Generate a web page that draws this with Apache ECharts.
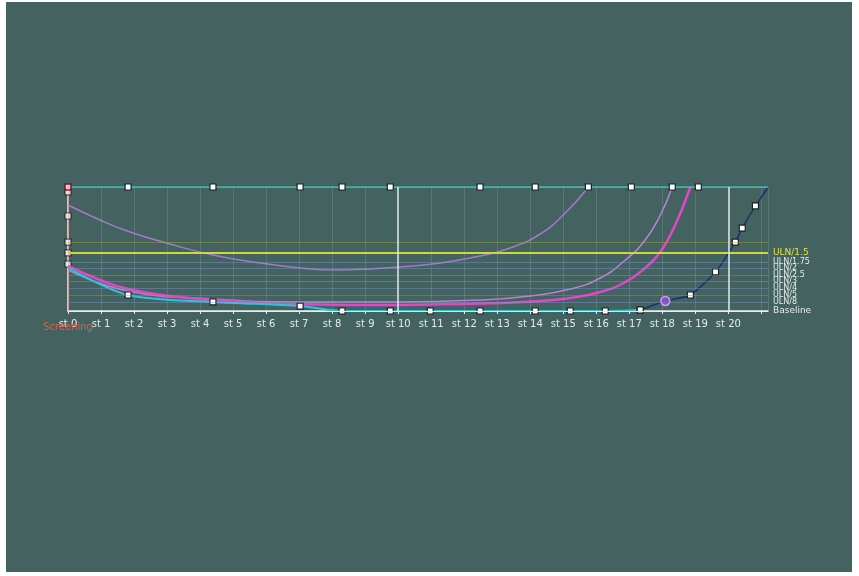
<!DOCTYPE html>
<html>
<head>
<meta charset="utf-8">
<script src="https://cdn.jsdelivr.net/npm/echarts@6/dist/echarts.min.js"></script>
<style>
  html, body { margin: 0; padding: 0; background: #ffffff; }
  #chart { position: absolute; left: 6px; top: 2px; width: 846px; height: 570px; background: #436260; }
</style>
</head>
<body>
<div id="chart"></div>
<script>
// Visit labels along the x axis
const xLabels = ['st 0','st 1','st 2','st 3','st 4','st 5','st 6','st 7','st 8','st 9','st 10',
  'st 11','st 12','st 13','st 14','st 15','st 16','st 17','st 18','st 19','st 20'];

// Values that run off the top of the scale (drawn at the cap)
const capX = [0, 1.82, 4.39, 7.03, 8.3, 9.76, 12.48, 14.15, 15.76, 17.06, 18.3, 19.09, 21.21];
const capY = [100, 100, 100, 100, 100, 100, 100, 100, 100, 100, 100, 100, 100];

// Measured series: early decline, then flat at baseline
const measX = [0, 1.82, 4.39, 7.03, 8.3, 9.76, 10.97, 12.48, 14.15, 15.21, 16.27, 17.33];
const measY = [34.7, 12.9, 7.3, 4.0, 0, 0, 0, 0, 0, 0, 0, 0.8];

// Measured series: late rise
const riseX = [17.33, 18.09, 18.85, 19.61, 20.21, 20.42, 20.82, 21.21];
const riseY = [0.8, 8.1, 12.9, 31.5, 55.6, 66.9, 84.7, 100];

// Model curve A
const modelAX = [0, 0.97, 1.82, 3.09, 4.39, 5.82, 7.03, 8.55, 10.06, 11.58, 13.09, 14.3, 15.21, 16.12, 16.88, 17.48, 17.94, 18.39, 18.85];
const modelAY = [36.3, 25.0, 17.7, 12.1, 8.9, 6.5, 5.6, 4.8, 4.8, 5.6, 6.5, 8.1, 10.5, 15.3, 23.4, 34.7, 47.6, 69.4, 100];

// Model curve B
const modelBX = [0, 1.82, 4.39, 7.03, 10.06, 12.48, 14.0, 15.21, 16.12, 16.88, 17.48, 17.94, 18.3];
const modelBY = [33.1, 16.1, 9.7, 7.3, 7.3, 8.9, 12.1, 17.7, 26.6, 41.1, 57.3, 77.4, 100];

// Model curve C (upper)
const modelCX = [0, 0.97, 1.88, 3.09, 4.39, 5.82, 7.03, 8.09, 9.15, 10.06, 11.27, 12.48, 13.39, 14.3, 15.06, 15.76];
const modelCY = [85.5, 73.4, 63.7, 54.0, 45.2, 38.7, 34.7, 33.1, 33.9, 35.5, 38.7, 44.4, 50.8, 62.1, 79.0, 100];

// Starting values shown on the y axis
const startY = [96, 76.6, 55.6, 46.8, 37.9];

// Reference levels on the right
const refNames = ['ULN/1.5', 'ULN/1.75', 'ULN/2', 'ULN/2.5', 'ULN/3', 'ULN/4', 'ULN/5', 'ULN/8', 'Baseline'];
const refValues = [46.8, 39.5, 34.7, 29.0, 24.2, 18.5, 12.9, 7.3, 0];

const pairs = (xs, ys) => xs.map((x, i) => [x, ys[i]]);

const refLines = refNames.map((name, i) => {
  const main = i === 0;
  const base = name === 'Baseline';
  return {
    yAxis: refValues[i],
    label: {
      show: true, position: 'end', formatter: name, distance: 5,
      color: main ? '#e4e23c' : '#e6ece8',
      fontSize: main ? 9 : (base ? 9 : 8), fontFamily: 'DejaVu Sans'
    },
    lineStyle: {
      color: main ? '#cfd83a' : (base ? '#e8eeee' : 'rgba(120,150,200,0.45)'),
      width: main ? 2 : 1, type: 'solid'
    }
  };
});

const chart = echarts.init(document.getElementById('chart'), null, { renderer: 'canvas' });

const squareMarker = {
  symbol: 'rect', symbolSize: 6,
  itemStyle: { color: '#ffffff', borderColor: '#1b2226', borderWidth: 1.2 }
};

chart.setOption({
  backgroundColor: '#436260',
  animation: false,
  grid: { left: 62, right: 84, top: 185, bottom: 261 },
  xAxis: {
    type: 'value', min: 0, max: 21.2, interval: 1,
    axisLine: { show: true, lineStyle: { color: '#e8eeee', width: 1.5 } },
    axisTick: { show: true, length: 3, lineStyle: { color: '#e8eeee' } },
    axisLabel: {
      color: '#e4ece8', fontSize: 10, fontFamily: 'DejaVu Sans', margin: 8,
      showMaxLabel: false,
      formatter: v => (Number.isInteger(v) && xLabels[v] !== undefined) ? xLabels[v] : ''
    },
    splitLine: { show: true, lineStyle: { color: 'rgba(200,225,220,0.16)', width: 1 } }
  },
  yAxis: {
    type: 'value', min: 0, max: 100,
    axisLine: { show: true, lineStyle: { color: '#e8eeee', width: 1.5 } },
    axisTick: { show: false },
    axisLabel: { show: false },
    splitLine: { show: false }
  },
  series: [
    {
      name: 'Reference', type: 'line', data: [], silent: true,
      markLine: {
        symbol: 'none', silent: true,
        data: refLines.concat([
          { yAxis: 55.6, label: { show: false }, lineStyle: { color: 'rgba(160,170,60,0.45)', width: 1, type: 'solid' } },
          { xAxis: 10, label: { show: false }, lineStyle: { color: '#dfe8e6', width: 1.5, type: 'solid' } },
          { xAxis: 20, label: { show: false }, lineStyle: { color: '#dfe8e6', width: 1.5, type: 'solid' } },
          { xAxis: 0, label: { show: true, position: 'start', distance: 11, formatter: 'Screening',
              color: '#d8604c', fontSize: 10, fontFamily: 'DejaVu Sans' },
            lineStyle: { color: 'rgba(230,120,120,0.5)', width: 1, type: 'solid' } }
        ])
      }
    },
    {
      name: 'Model C', type: 'line', smooth: true, showSymbol: false,
      data: pairs(modelCX, modelCY),
      lineStyle: { color: '#a27ac8', width: 1.5 }
    },
    {
      name: 'Model B', type: 'line', smooth: true, showSymbol: false,
      data: pairs(modelBX, modelBY),
      lineStyle: { color: '#b884d0', width: 1.5 }
    },
    {
      name: 'Model A', type: 'line', smooth: true, showSymbol: false,
      data: pairs(modelAX, modelAY),
      lineStyle: { color: '#e048c8', width: 2.5 }
    },
    Object.assign({
      name: 'Measured', type: 'line', smooth: 0.3,
      data: pairs(measX, measY).map((p, i) => i === 0 ? { value: p, symbolSize: 0 } : p),
      lineStyle: { color: '#2cc6d6', width: 2 }
    }, squareMarker),
    Object.assign({
      name: 'Rise', type: 'line', smooth: 0.2,
      data: pairs(riseX, riseY).map((p, i) => i === 1
        ? { value: p, symbol: 'circle', symbolSize: 9, itemStyle: { color: '#8a4cc0', borderColor: '#c9a0f0', borderWidth: 1.5 } }
        : p),
      lineStyle: { color: '#1f2f6e', width: 1.5 }
    }, squareMarker),
    Object.assign({
      name: 'Capped', type: 'line',
      data: pairs(capX, capY).map((p, i) => i === 0
        ? { value: p, itemStyle: { color: '#e8c8d0', borderColor: '#7a1830', borderWidth: 1.5 } }
        : p),
      lineStyle: { color: '#3ed0c4', width: 1.5 }
    }, squareMarker),
    Object.assign({
      name: 'Start', type: 'scatter',
      data: startY.map(v => [0, v])
    }, squareMarker)
  ]
});
</script>
</body>
</html>
